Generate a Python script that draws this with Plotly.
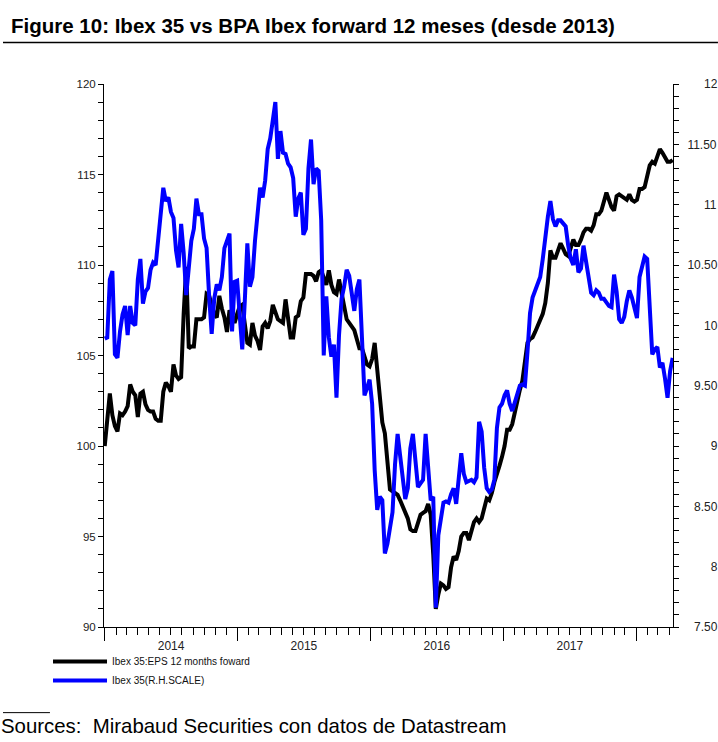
import pandas as pd
import plotly.graph_objects as go

# ---------------- data (weekly) ----------------
week_start = "2014-01-01"

eps_fwd = [
    100.0, 101.8, 102.9, 101.7, 101.1, 100.8, 101.8, 101.7, 101.9, 102.2,
    103.4, 103.0, 102.8, 101.6, 102.9, 103.0, 102.3, 102.0, 101.9, 101.9,
    101.5, 101.4, 101.4, 103.0, 103.5, 103.3, 103.0, 104.5, 103.9, 103.7,
    103.8, 107.3, 109.9, 105.4, 105.5, 105.5, 107.0, 107.0, 107.0, 107.1,
    108.4, 108.3, 107.8, 107.3, 107.1, 108.3, 107.6, 107.1, 106.3, 107.5,
    107.2, 106.8, 107.3, 107.7, 107.8, 106.9, 105.7, 105.6, 106.8, 106.1,
    105.8, 105.3, 106.6, 106.8, 106.5, 106.9, 107.8, 107.4, 107.0, 106.9,
    106.8, 108.1, 106.9, 106.0, 106.0, 107.1, 107.2, 108.0, 108.2, 109.5,
    109.5, 109.5, 109.4, 109.1, 109.6, 109.7, 109.3, 108.9, 109.7, 108.9,
    108.5, 108.4, 109.2, 108.4, 107.8, 107.0, 106.8, 106.6, 106.4, 105.9,
    105.4, 105.4, 104.9, 104.5, 104.4, 104.8, 105.7, 104.2, 102.5, 101.3,
    100.7, 99.2, 97.6, 97.5, 97.4, 97.3, 97.0, 96.7, 96.4, 96.0,
    95.4, 95.3, 95.3, 95.7, 96.2, 96.3, 96.4, 96.8, 96.2, 94.0,
    91.0, 91.8, 92.4, 92.3, 92.1, 92.2, 93.3, 93.9, 93.7, 94.2,
    95.0, 95.2, 95.2, 94.8, 95.3, 95.8, 96.0, 95.8, 96.0, 96.6,
    97.1, 97.0, 97.4, 98.0, 98.4, 98.9, 99.4, 100.0, 100.9, 100.9,
    101.2, 101.9, 102.6, 103.1, 103.6, 104.5, 105.7, 105.9, 106.0, 106.3,
    106.6, 107.0, 107.3, 107.9, 109.0, 110.8, 110.4, 110.4, 110.8, 111.2,
    110.9, 110.6, 110.5, 110.9, 111.4, 111.1, 111.1, 111.4, 111.8, 112.0,
    112.0, 111.9, 112.2, 112.8, 112.8, 113.0, 113.5, 114.0, 113.6, 113.2,
    113.0, 113.8, 113.9, 113.8, 113.7, 113.6, 113.9, 113.6, 113.5, 113.6,
    114.2, 114.2, 114.3, 114.8, 115.5, 115.7, 115.6, 116.0, 116.4, 116.2,
    115.9, 115.7, 115.7, 115.8,
]

ibex_thousands = [
    9.89, 9.90, 10.38, 10.45, 9.76, 9.73, 9.95, 10.09, 10.16, 9.92,
    10.16, 10.02, 10.00, 10.38, 10.55, 10.18, 10.28, 10.31, 10.46, 10.52,
    10.50, 10.72, 10.93, 11.14, 11.03, 11.06, 10.94, 10.89, 10.62, 10.48,
    10.84, 10.60, 10.25, 10.52, 10.70, 10.80, 11.05, 10.92, 10.92, 10.72,
    10.64, 10.24, 9.93, 10.22, 10.34, 10.29, 10.40, 10.64, 10.70, 10.76,
    9.95, 10.36, 10.37, 10.02, 9.80, 10.20, 10.68, 10.32, 10.40, 10.70,
    10.96, 11.14, 11.06, 11.20, 11.46, 11.55, 11.70, 11.85, 11.38, 11.61,
    11.43, 11.42, 11.34, 11.31, 11.22, 10.90, 11.05, 11.10, 10.75, 10.80,
    11.30, 11.54, 11.17, 11.30, 11.28, 10.87, 9.75, 10.24, 9.90, 9.74,
    9.84, 9.40, 9.92, 10.22, 10.32, 10.46, 10.41, 10.28, 10.12, 10.30,
    10.38, 9.90, 9.42, 9.48, 9.55, 9.35, 8.80, 8.47, 8.58, 8.55,
    8.11, 8.19, 8.30, 8.45, 8.85, 9.10, 8.92, 8.73, 8.56, 8.65,
    8.98, 9.10, 8.90, 8.66, 8.69, 8.72, 9.10, 8.78, 8.55, 8.58,
    7.66, 8.26, 8.40, 8.53, 8.54, 8.53, 8.60, 8.65, 8.52, 8.75,
    8.94, 8.77, 8.70, 8.71, 8.72, 8.70, 8.74, 9.20, 9.12, 8.82,
    8.65, 8.62, 8.64, 8.72, 9.15, 9.32, 9.35, 9.42, 9.46, 9.35,
    9.29, 9.36, 9.42, 9.50, 9.51, 9.50, 9.78, 10.10, 10.23, 10.29,
    10.36, 10.40, 10.55, 10.74, 10.90, 11.03, 10.88, 10.82, 10.87, 10.87,
    10.84, 10.82, 10.66, 10.55, 10.50, 10.63, 10.44, 10.47, 10.66, 10.52,
    10.36, 10.27, 10.25, 10.29, 10.27, 10.22, 10.22, 10.19, 10.16, 10.15,
    10.42, 10.28, 10.05, 10.02, 10.07, 10.20, 10.29, 10.23, 10.15, 10.06,
    10.40, 10.48, 10.57, 10.55, 10.10, 9.76, 9.80, 9.82, 9.65, 9.69,
    9.56, 9.40, 9.62, 9.73,
]

left_ticks = [90, 95, 100, 105, 110, 115, 120]
right_ticks = [7.5, 8, 8.5, 9, 9.5, 10, 10.5, 11, 11.5, 12]
right_labels = ["7.50", "8", "8.50", "9", "9.50", "10", "10.50", "11", "11.50", "12"]

series_names = ["Ibex 35:EPS 12 months foward", "Ibex 35(R.H.SCALE)"]
title_text = "Figure 10: Ibex 35 vs BPA Ibex forward 12 meses (desde 2013)"
source_text = "Sources:  Mirabaud Securities con datos de Datastream"

# ---------------- figure ----------------
dates = pd.date_range(week_start, periods=len(eps_fwd), freq="7D")

FIG = "\u2007"   # figure space (digit width)
PUNC = "\u2008"  # punctuation space (period width)


def pad(lbl):
    digits = sum(c.isdigit() for c in lbl)
    dots = lbl.count(".")
    return FIG * (4 - digits) + PUNC * (1 - dots) + lbl


sans = "Liberation Sans, Arial, sans-serif"

fig = go.Figure()
fig.add_trace(go.Scatter(x=dates, y=eps_fwd, mode="lines", name=series_names[0],
                         line=dict(color="#000000", width=4), yaxis="y"))
fig.add_trace(go.Scatter(x=dates, y=ibex_thousands, mode="lines", name=series_names[1],
                         line=dict(color="#0000ff", width=4), yaxis="y2"))

fig.update_layout(
    width=718, height=742,
    margin=dict(l=104, r=45, t=84, b=115),
    paper_bgcolor="white", plot_bgcolor="white",
    font=dict(family=sans, size=11.5, color="#222222"),
    showlegend=True,
    legend=dict(x=-0.0984, y=-0.037, xanchor="left", yanchor="top",
                orientation="v", font=dict(family=sans, size=10, color="#111111"),
                itemwidth=54, tracegroupgap=0, bgcolor="rgba(0,0,0,0)"),
    xaxis=dict(
        type="date", range=["2013-12-30", "2018-04-12"],
        showline=True, linecolor="black", linewidth=1,
        showgrid=False, zeroline=False, automargin=False,
        tick0="2014-01-01", dtick="M12", ticklabelmode="period", tickformat="%Y",
        ticks="outside", ticklen=13, tickcolor="black", tickwidth=1,
        ticklabelstandoff=-5,
        minor=dict(dtick="M1", ticks="outside", ticklen=7, tickcolor="black", tickwidth=1),
        tickfont=dict(family=sans, size=12, color="#222222"),
    ),
    yaxis=dict(
        range=[90, 120], tickvals=left_ticks,
        showline=True, linecolor="black", linewidth=1,
        showgrid=False, zeroline=False, automargin=False,
        ticks="outside", ticklen=5, tickcolor="black",
        minor=dict(dtick=1, ticks="outside", ticklen=5, tickcolor="black"),
        tickfont=dict(family=sans, size=11.5, color="#222222"),
    ),
    yaxis2=dict(
        range=[7.5, 12], tickvals=right_ticks, ticktext=[pad(t) for t in right_labels],
        overlaying="y", side="right",
        showline=True, linecolor="black", linewidth=1,
        showgrid=False, zeroline=False, automargin=False,
        ticks="outside", ticklen=5, tickcolor="black",
        ticklabelstandoff=6,
        minor=dict(dtick=0.1, ticks="outside", ticklen=5, tickcolor="black"),
        tickfont=dict(family=sans, size=12, color="#222222"),
    ),
)

fig.add_annotation(text="<b>" + title_text + "</b>", xref="paper", yref="paper",
                   x=-0.1670, y=1.1085, xanchor="left", yanchor="middle", showarrow=False,
                   font=dict(family=sans, size=20.5, color="#000000"))
fig.add_annotation(text=source_text, xref="paper", yref="paper",
                   x=-0.1845, y=-0.1830, xanchor="left", yanchor="middle", showarrow=False,
                   font=dict(family=sans, size=20.4, color="#000000"))

# rule under the title and short rule above the source line
fig.add_shape(type="line", xref="paper", yref="paper", x0=-0.1775, x1=1.079,
              y0=1.0766, y1=1.0766, line=dict(color="black", width=1.5))
fig.add_shape(type="line", xref="paper", yref="paper", x0=-0.1775, x1=-0.095,
              y0=-0.1577, y1=-0.1577, line=dict(color="black", width=1))

fig.write_html("out.html",
               config={"displayModeBar": False},
               post_script="document.body.style.margin='0';document.body.style.padding='0';")
